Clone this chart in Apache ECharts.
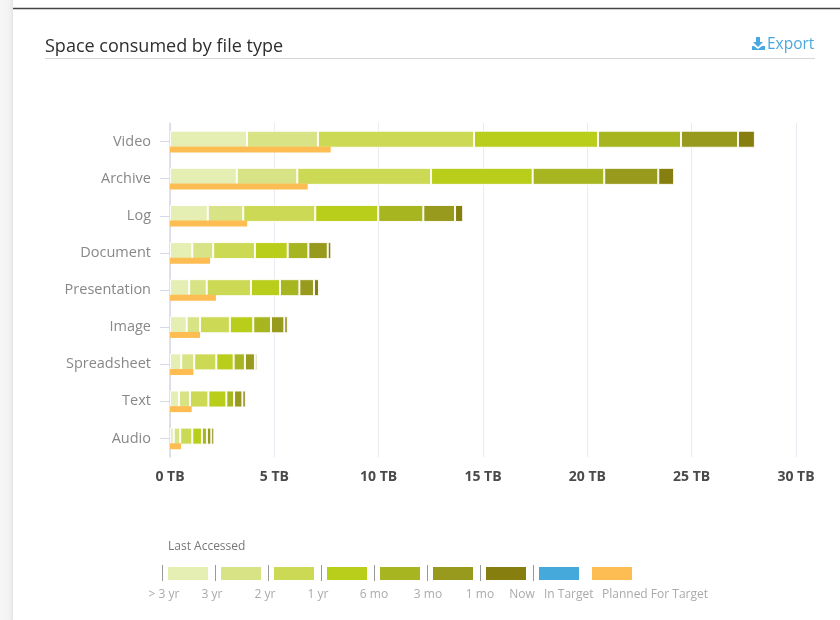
<!DOCTYPE html>
<html><head><meta charset="utf-8">
<script src="https://cdn.jsdelivr.net/npm/echarts@6/dist/echarts.min.js"></script>
<style>html,body{margin:0;padding:0;background:#fff}#c{width:840px;height:620px}</style>
</head><body><div id="c"></div>
<script>
// ---- data ----
const categories = ['Video','Archive','Log','Document','Presentation','Image','Spreadsheet','Text','Audio'];
const over3yr = [3.69, 3.20, 1.81, 1.07, 0.92, 0.80, 0.54, 0.43, 0.18];
const yr3     = [3.40, 2.90, 1.70, 1.00, 0.84, 0.64, 0.62, 0.53, 0.31];
const yr2     = [7.48, 6.41, 3.45, 2.00, 2.12, 1.43, 1.06, 0.88, 0.58];
const yr1     = [5.94, 4.87, 3.02, 1.57, 1.39, 1.12, 0.83, 0.86, 0.46];
const mo6     = [3.98, 3.43, 2.16, 0.99, 0.93, 0.85, 0.54, 0.37, 0.24];
const mo3     = [2.73, 2.59, 1.52, 0.93, 0.70, 0.64, 0.48, 0.40, 0.21];
const mo1     = [0.81, 0.76, 0.39, 0.17, 0.24, 0.16, 0.11, 0.16, 0.14];
const plannedForTarget = [7.70, 6.60, 3.70, 1.92, 2.20, 1.44, 1.12, 1.04, 0.53];
const xTickValues = [0, 5, 10, 15, 20, 25, 30];
const ageNames = ['> 3 yr','3 yr','2 yr','1 yr','6 mo','3 mo','1 mo'];
const legendLabels = ['> 3 yr','3 yr','2 yr','1 yr','6 mo','3 mo','1 mo','Now','In Target','Planned For Target'];

// ---- styles ----
const ageColors = ['#e5efb3','#d7e385','#cbd955','#b9cd1b','#a7b521','#979a1c','#867f0f'];
const inTargetColor = '#45a9dc';
const plannedColor = '#fdbd52';
const FONT = 'Open Sans';

const ageData = [over3yr, yr3, yr2, yr1, mo6, mo3, mo1];
const series = ageData.map((d, i) => ({
  name: ageNames[i], type: 'bar', stack: 'age', data: d,
  barWidth: 17, barGap: '-8%',
  itemStyle: { color: ageColors[i], borderColor: 'rgba(255,255,255,0.9)', borderWidth: 1 },
  emphasis: { disabled: true }, silent: true
}));
series.push({
  name: 'Planned For Target', type: 'bar', stack: 'plan', data: plannedForTarget,
  barWidth: 6, barGap: '-8%',
  itemStyle: { color: plannedColor }, silent: true
});

// ---- frame & legend graphics ----
const g = [];
g.push({ type: 'rect', shape: { x: 0, y: 0, width: 13, height: 620 }, style: { fill: new echarts.graphic.LinearGradient(0,0,1,0,[{offset:0,color:'#f7f7f7'},{offset:0.7,color:'#f2f2f2'},{offset:1,color:'#e6e6e6'}]) }, z: -1 });
g.push({ type: 'line', shape: { x1: 13, y1: 8.5, x2: 840, y2: 8.5 }, style: { stroke: '#444', lineWidth: 1.5 } });
g.push({ type: 'text', x: 45, y: 47, style: { text: 'Space consumed by file type', font: '18px "Open Sans"', fill: '#2e2e2e', verticalAlign: 'middle' } });
g.push({ type: 'line', shape: { x1: 45, y1: 58.5, x2: 815, y2: 58.5 }, style: { stroke: '#d6d6d6', lineWidth: 1 } });
// export icon
g.push({ type: 'polygon', shape: { points: [[756,37],[760,37],[760,42],[763,42],[758,47],[753,42],[756,42]] }, style: { fill: '#4aa8e0' } });
g.push({ type: 'polygon', shape: { points: [[752,46],[754,46],[758,49],[762,46],[765,46],[765,50],[752,50]] }, style: { fill: '#4aa8e0' } });
g.push({ type: 'text', x: 767, y: 45, style: { text: 'Export', font: '15.5px "Open Sans"', fill: '#4aa8e0', verticalAlign: 'middle' } });
// legend
g.push({ type: 'text', x: 168, y: 547, style: { text: 'Last Accessed', font: '12px "Open Sans"', fill: '#777', verticalAlign: 'middle' } });
const legendColors = ageColors.concat([inTargetColor, plannedColor]);
const sepX0 = 162, pitch = 53;
for (let i = 0; i < 8; i++) {
  const x = sepX0 + pitch * i + 0.5;
  g.push({ type: 'line', shape: { x1: x, y1: 565, x2: x, y2: 581 }, style: { stroke: '#999', lineWidth: 1 } });
}
legendColors.forEach((c, i) => {
  g.push({ type: 'rect', shape: { x: sepX0 + 6 + pitch * i, y: 567, width: 40, height: 13 }, style: { fill: c } });
});
const labelX = [164, 212, 265, 318, 374, 428, 480, 522, 544, 602];
legendLabels.forEach((t, i) => {
  g.push({ type: 'text', x: labelX[i], y: 595, style: { text: t, font: '12px "Open Sans"', fill: '#aaa', align: i < 8 ? 'center' : 'left', verticalAlign: 'middle' } });
});

const chart = echarts.init(document.getElementById('c'), null, { renderer: 'canvas' });
chart.setOption({
  backgroundColor: '#fff',
  animation: false,
  textStyle: { fontFamily: FONT },
  grid: { left: 170, right: 44, top: 123, bottom: 163, containLabel: false },
  xAxis: {
    type: 'value', min: xTickValues[0], max: xTickValues[xTickValues.length - 1], interval: 5,
    axisLine: { show: false }, axisTick: { show: false },
    splitLine: { lineStyle: { color: '#eaebf0', width: 1 } },
    axisLabel: { formatter: v => v + ' TB', color: '#4a4a4a', fontWeight: 'bold', fontSize: 14, margin: 13, fontFamily: FONT }
  },
  yAxis: {
    type: 'category', data: categories, inverse: true,
    axisLine: { show: true, lineStyle: { color: '#d3d9e6', width: 1.5 } },
    axisTick: { show: true, length: 10, alignWithLabel: true, lineStyle: { color: '#d3d9e6' } },
    axisLabel: { color: '#888', fontSize: 14.5, margin: 19, fontFamily: FONT }
  },
  series: series,
  graphic: g
});
</script></body></html>
